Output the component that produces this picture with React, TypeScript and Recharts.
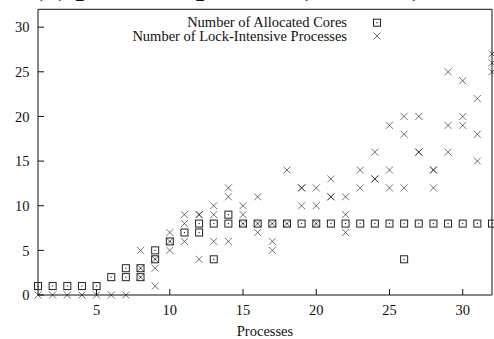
import React from 'react';
import { ScatterChart, Scatter, XAxis, YAxis } from 'recharts';

// number of processes on the x axis
const processCounts = [
  1, 2, 3, 4, 5, 6, 7, 8, 9, 10, 11, 12, 13, 14, 15, 16,
  17, 18, 19, 20, 21, 22, 23, 24, 25, 26, 27, 28, 29, 30, 31, 32,
];

// observed values for each process count (several runs each)
const allocatedCores: number[][] = [
  [1], [1], [1], [1], [1], [2], [3, 2], [3, 2], [5, 4], [6], [7], [8, 7], [8, 4], [9, 8], [8], [8],
  [8], [8], [8], [8], [8], [8], [8], [8], [8], [8, 4], [8], [8], [8], [8], [8], [8],
];

const lockIntensive: number[][] = [
  [0], [0], [0], [0], [0], [0], [0], [5, 3, 2], [4, 3, 1], [7, 6, 5], [9, 8, 6], [9, 9, 4],
  [10, 9, 6], [12, 11, 6], [10, 9, 8], [11, 8, 7], [8, 6, 5], [14, 8], [12, 12, 10], [12, 10, 8],
  [13, 11, 11], [11, 9, 7], [14, 12], [16, 13, 13], [19, 14, 12], [20, 18, 12], [20, 16, 16],
  [14, 14, 12], [25, 19, 16], [24, 20, 19], [22, 18, 15], [27, 26, 25],
];

const xTicks = [5, 10, 15, 20, 25, 30];
const yTicks = [0, 5, 10, 15, 20, 25, 30];

const toPoints = (rows: number[][]) =>
  rows.flatMap((vals, i) => vals.map(v => ({ x: processCounts[i], y: v })));

const corePoints = toPoints(allocatedCores);
const lockPoints = toPoints(lockIntensive);

const font = '"Liberation Serif", "Times New Roman", serif';

const BoxMark = ({ cx, cy }: any) => (
  <g>
    <rect x={cx - 3.5} y={cy - 3.5} width={7} height={7} fill="none" stroke="#222" strokeWidth={1} />
    <rect x={cx - 0.6} y={cy - 0.6} width={1.2} height={1.2} fill="#222" />
  </g>
);

const CrossMark = ({ cx, cy }: any) => (
  <g stroke="#000" strokeOpacity={0.55} strokeWidth={1}>
    <line x1={cx - 3.5} y1={cy - 3.5} x2={cx + 3.5} y2={cy + 3.5} />
    <line x1={cx - 3.5} y1={cy + 3.5} x2={cx + 3.5} y2={cy - 3.5} />
  </g>
);

const tickStyle = { fill: '#111', fontSize: 14.5, fontFamily: font };

export default function App() {
  return (
    <div style={{ position: 'absolute', left: 0, top: 0, width: 494, height: 339, background: '#fff', overflow: 'hidden' }}>
      <ScatterChart width={494} height={339} margin={{ top: 8.3, right: 1, bottom: 0, left: 0 }}>
        <XAxis
          type="number"
          dataKey="x"
          domain={[1, 32]}
          ticks={xTicks}
          height={44}
          tickSize={-6}
          tickMargin={16}
          stroke="#111"
          tick={tickStyle}
          label={{ value: 'Processes', position: 'insideBottom', offset: 3, fill: '#111', fontSize: 14.5, fontFamily: font }}
        />
        <XAxis
          xAxisId="top"
          orientation="top"
          type="number"
          domain={[1, 32]}
          allowDataOverflow
          ticks={xTicks}
          height={1}
          tickSize={-6}
          stroke="#111"
          tick={false}
        />
        <YAxis
          type="number"
          dataKey="y"
          domain={[0, 32]}
          ticks={yTicks}
          width={38}
          tickSize={-6}
          tickMargin={14.5}
          stroke="#111"
          tick={tickStyle}
        />
        <YAxis
          yAxisId="right"
          orientation="right"
          type="number"
          domain={[0, 32]}
          allowDataOverflow
          ticks={yTicks}
          width={1}
          tickSize={-6}
          stroke="#111"
          tick={false}
        />
        <Scatter data={corePoints} shape={<BoxMark />} isAnimationActive={false} />
        <Scatter data={lockPoints} shape={<CrossMark />} isAnimationActive={false} />
      </ScatterChart>
      <svg width={494} height={339} style={{ position: 'absolute', left: 0, top: 0, pointerEvents: 'none' }}>
        <text x={33} y={-5} fontFamily={font} fontWeight="bold" fontSize={30} fill="#111">
          (a) pthread spinlock (32 cores)
        </text>
        <g fontFamily={font} fontSize={14.5} fill="#111" textAnchor="end">
          <text x={347} y={27}>Number of Allocated Cores</text>
          <text x={347} y={40.5}>Number of Lock-Intensive Processes</text>
        </g>
        <BoxMark cx={377} cy={22.7} />
        <CrossMark cx={377} cy={36} />
      </svg>
    </div>
  );
}
